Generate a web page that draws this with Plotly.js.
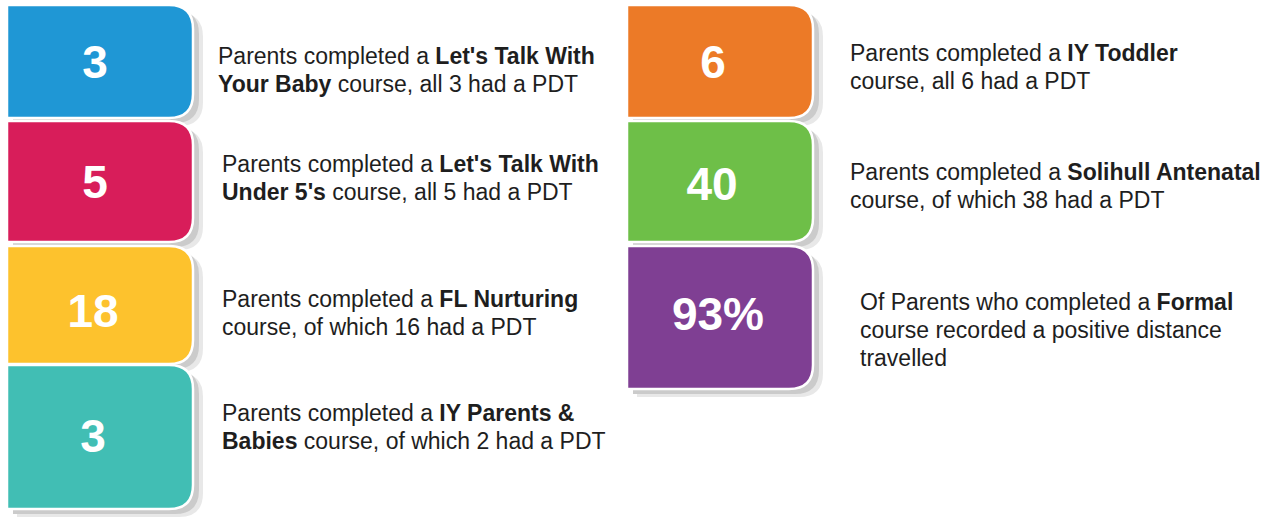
<!DOCTYPE html>
<html>
<head>
<meta charset="utf-8">
<script src="https://cdn.plot.ly/plotly-3.0.1.min.js"></script>
<style>html,body{margin:0;padding:0;background:#fff;}#chart{width:1271px;height:520px;}</style>
</head>
<body>
<div id="chart"></div>
<script>
// ---- data ----
const values = ["3", "5", "18", "3", "6", "40", "93%"];
const leadText = ["Parents completed a ", "Parents completed a ", "Parents completed a ", "Parents completed a ",
                  "Parents completed a ", "Parents completed a ", "Of Parents who completed a "];
const courseNames = [["Let's Talk With", "Your Baby"], ["Let's Talk With", "Under 5's"], ["FL Nurturing"],
                     ["IY Parents &", "Babies"], ["IY Toddler"], ["Solihull Antenatal"], ["Formal"]];
const tailText = [" course, all 3 had a PDT", " course, all 5 had a PDT", "<br>course, of which 16 had a PDT",
                  " course, of which 2 had a PDT", "<br>course, all 6 had a PDT", "<br>course, of which 38 had a PDT",
                  "<br>course recorded a positive distance<br>travelled"];
const colours = ["#1f97d5", "#d81d5a", "#fdc22d", "#41beb4", "#ec7a27", "#6ebf48", "#7f3f93"];

// ---- layout (pixel positions) ----
const tileLeft  = [7, 7, 7, 7, 627, 627, 627];
const tileWidth = 186;
const tileTop   = [5, 121, 246, 365, 5, 121, 246];
const tileBot   = [118, 242, 364, 509, 118, 242, 389];
const numX = [95, 95, 93, 93, 713, 712, 718];
const numY = [66, 186, 315, 440, 66, 188, 318];
const txtX = [216, 220, 220, 220, 848, 848, 858];
const txtY = [56, 164, 299, 413, 53, 172, 302];   // first-line centres
const LINE = 27.8;
const R = 24;
const FONT = "Liberation Sans, Arial, sans-serif";

function tilePath(i, dx, dy) {
  const x0 = tileLeft[i] + dx, x1 = tileLeft[i] + tileWidth + dx;
  const y0 = tileTop[i] + dy, y1 = tileBot[i] + dy;
  return `M ${x0},${y0} L ${x1 - R},${y0} Q ${x1},${y0} ${x1},${y0 + R} ` +
         `L ${x1},${y1 - R} Q ${x1},${y1} ${x1 - R},${y1} L ${x0},${y1} Z`;
}

const shapes = [];
values.forEach((v, i) => shapes.push({ type: 'path', xref: 'x', yref: 'y', layer: 'below',
  path: tilePath(i, 10, 8), fillcolor: '#e8e8e8', line: { width: 0 } }));
values.forEach((v, i) => shapes.push({ type: 'path', xref: 'x', yref: 'y', layer: 'below',
  path: tilePath(i, 6, 5), fillcolor: '#cbcbcb', line: { width: 0 } }));
values.forEach((v, i) => shapes.push({ type: 'path', xref: 'x', yref: 'y', layer: 'below',
  path: tilePath(i, 0, 0), fillcolor: colours[i], line: { color: '#ffffff', width: 2.5 } }));

const traces = [{
  type: 'scatter', mode: 'text', x: numX, y: numY, text: values,
  textposition: 'middle center',
  textfont: { family: FONT, size: 46, color: '#ffffff', weight: 'bold' },
  hoverinfo: 'skip', showlegend: false
}];

const annotations = [];
values.forEach((v, i) => {
  const full = leadText[i] + courseNames[i].map(s => '<b>' + s + '</b>').join('<br>') + tailText[i];
  full.split('<br>').forEach((line, k) => {
    annotations.push({
      xref: 'x', yref: 'y', x: txtX[i], y: txtY[i] + k * LINE,
      xanchor: 'left', yanchor: 'middle', align: 'left', showarrow: false,
      text: line, font: { family: FONT, size: 23, color: '#1e1e1e' }
    });
  });
});

const layout = {
  width: 1271, height: 520,
  margin: { l: 0, r: 0, t: 0, b: 0 },
  paper_bgcolor: '#ffffff', plot_bgcolor: 'rgba(0,0,0,0)',
  xaxis: { range: [0, 1271], visible: false, fixedrange: true },
  yaxis: { range: [520, 0], visible: false, fixedrange: true },
  shapes: shapes,
  annotations: annotations,
  showlegend: false
};

Plotly.newPlot('chart', traces, layout, { displayModeBar: false, staticPlot: true });
</script>
</body>
</html>
